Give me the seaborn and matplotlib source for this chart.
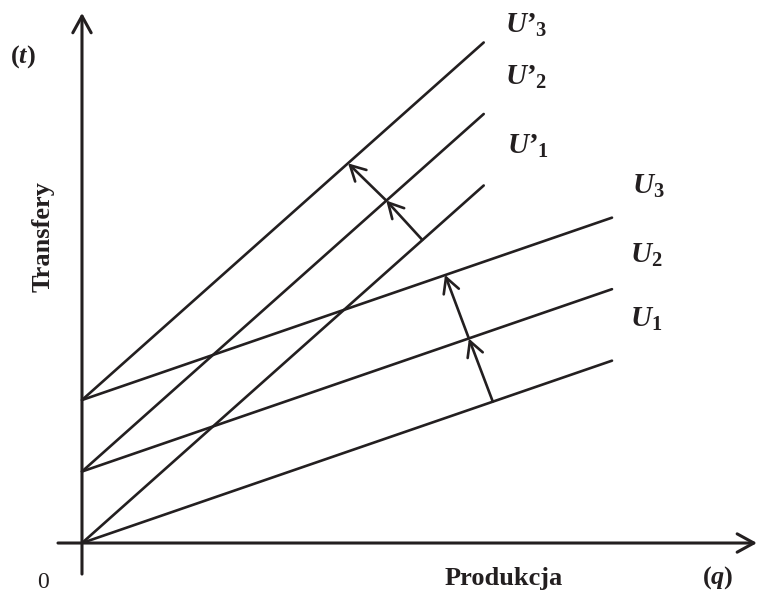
import numpy as np
import pandas as pd
import seaborn as sns
import matplotlib.pyplot as plt

sns.set_style("white")
plt.rcParams['font.family'] = ['Liberation Serif', 'DejaVu Serif']
plt.rcParams['mathtext.fontset'] = 'custom'
plt.rcParams['mathtext.it'] = 'Liberation Serif:bold:italic'
plt.rcParams['mathtext.rm'] = 'Liberation Serif:bold'
plt.rcParams['mathtext.bf'] = 'Liberation Serif:bold'

# indifference curves: start / end on (q, t)
curves = ["U1", "U2", "U3", "U'1", "U'2", "U'3"]
q_start = [0, 0, 0, 0, 0, 0]
q_end = [10, 10, 10, 7.58, 7.58, 7.58]
t_start = [0, 1, 2, 0, 1, 2]
t_end = [2.55, 3.55, 4.55, 5.0, 6.0, 7.0]

# shift arrows (points on successive curves)
arrow_low_q = [7.75, 7.30, 6.85]
arrow_low_t = [1.98, 2.86, 3.75]
arrow_high_q = [6.42, 5.74, 5.02]
arrow_high_t = [4.24, 4.79, 5.31]

labels = [r"$U_1$", r"$U_2$", r"$U_3$", r"$U’_1$", r"$U’_2$", r"$U’_3$"]

rows = []
for i, c in enumerate(curves):
    rows.append({"curve": c, "q": q_start[i], "t": t_start[i]})
    rows.append({"curve": c, "q": q_end[i], "t": t_end[i]})
df = pd.DataFrame(rows)

fig = plt.figure(figsize=(7.59, 5.93), dpi=100)
ax = fig.add_axes([0, 0, 1, 1])

sns.lineplot(data=df, x="q", y="t", hue="curve", palette=["#231f20"] * 6,
             legend=False, linewidth=1.9, estimator=None, ax=ax)

ax.set_xlim(-1.547, 12.774)
ax.set_ylim(-0.699, 7.594)
ax.axis('off')

# axes with open arrowheads
axis_style = dict(arrowstyle="->,head_length=0.6,head_width=0.33", color="#231f20",
                  lw=2.2, shrinkA=0, shrinkB=0, mutation_scale=20)
ax.annotate("", xy=(12.736, 0), xytext=(-0.453, 0), arrowprops=axis_style)
ax.annotate("", xy=(0, 7.413), xytext=(0, -0.434), arrowprops=axis_style)

arr_style = dict(arrowstyle="->,head_length=0.54,head_width=0.29", color="#231f20",
                 lw=1.9, shrinkA=0, shrinkB=0, mutation_scale=20)
for qs, ts in [(arrow_low_q, arrow_low_t), (arrow_high_q, arrow_high_t)]:
    for k in range(len(qs) - 1):
        ax.annotate("", xy=(qs[k + 1], ts[k + 1]), xytext=(qs[k], ts[k]),
                    arrowprops=arr_style)

# curve labels
label_q = [10.34, 10.34, 10.38, 8.02, 7.98, 7.98]
label_t = [3.02, 3.92, 4.88, 5.45, 6.41, 7.13]
for lab, lq, lt in zip(labels, label_q, label_t):
    ax.text(lq, lt, lab, fontsize=21, ha='left', va='baseline', color="#231f20")

# axis texts
ax.text(-1.36, 6.72, r"$(t)$", fontsize=19, ha='left', va='baseline', color="#231f20")
ax.text(-0.74, 4.28, "Transfery", fontsize=19, fontweight='bold', rotation=90,
        ha='center', va='center', color="#231f20")
ax.text(-0.73, -0.63, "0", fontsize=17, ha='center', va='baseline', color="#231f20")
ax.text(6.85, -0.59, "Produkcja", fontsize=19, fontweight='bold', ha='left',
        va='baseline', color="#231f20")
ax.text(11.7, -0.57, r"$(q)$", fontsize=19, ha='left', va='baseline', color="#231f20")

fig.savefig("out.png", dpi=100)
